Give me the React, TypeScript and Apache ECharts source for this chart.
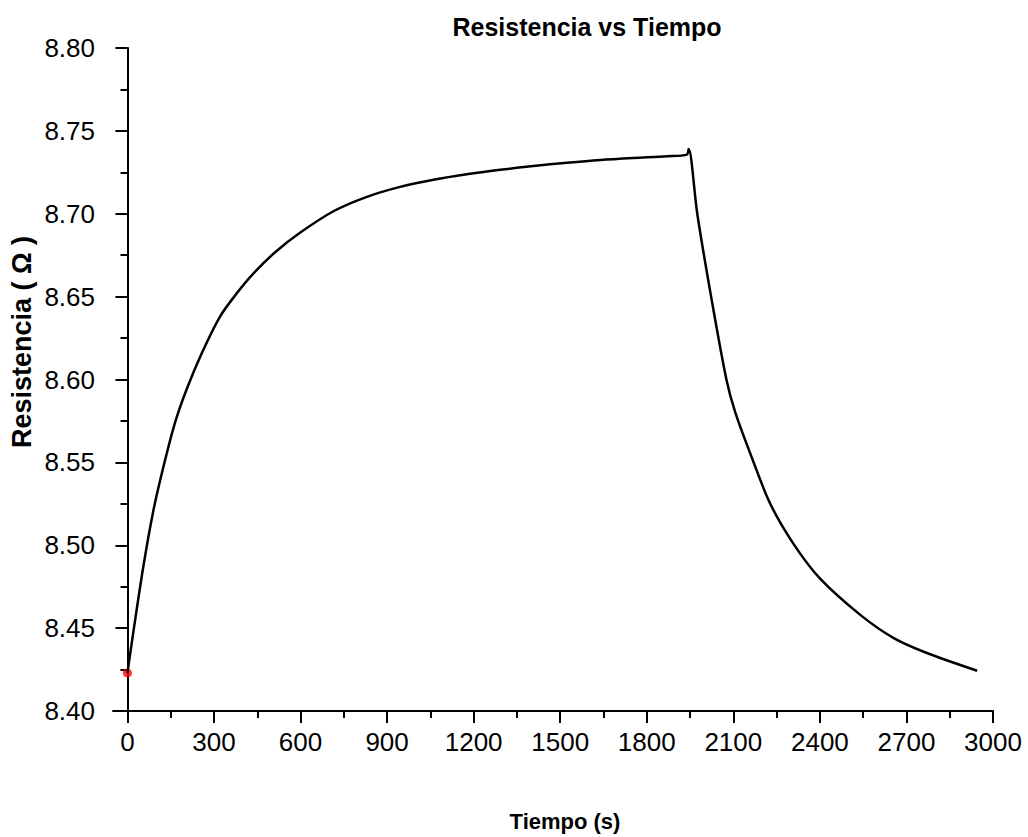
import React, { useEffect, useRef } from "react";
import * as echarts from "echarts";

const timeS = [
  0, 20, 55, 90, 125, 165, 205, 258, 321, 379, 437, 512, 598, 714, 830, 945,
  1061, 1176, 1292, 1407, 1523, 1639, 1754, 1870, 1939, 1945, 1975, 2023,
  2076, 2107, 2166, 2228, 2308, 2400, 2540, 2656, 2771, 2945,
];
const resistance = [
  8.423, 8.447, 8.487, 8.521, 8.5475, 8.574, 8.594, 8.616, 8.638, 8.652,
  8.664, 8.6768, 8.6885, 8.7015, 8.7102, 8.7162, 8.7205, 8.7238, 8.7265, 8.7288,
  8.7308, 8.7325, 8.7337, 8.7347, 8.7357, 8.739, 8.7, 8.65, 8.6, 8.58, 8.552,
  8.525, 8.501, 8.48, 8.458, 8.444, 8.435, 8.4243,
];
const xMajorTicks = [0, 300, 600, 900, 1200, 1500, 1800, 2100, 2400, 2700, 3000];
const xMinorTicks = [150, 450, 750, 1050, 1350, 1650, 1950, 2250, 2550, 2850];
const startPoint = [0, 8.423];

const FONT = "'Liberation Sans', Arial, sans-serif";

export default function App() {
  const ref = useRef<HTMLDivElement>(null);
  useEffect(() => {
    document.body.style.margin = "0";
    const chart = echarts.init(ref.current!, null, { renderer: "svg" });
    const data = timeS.map((t, i) => [t, resistance[i]]);
    const axisLineStyle = { color: "#000", width: 2 };
    chart.setOption({
      animation: false,
      backgroundColor: "#fff",
      title: {
        text: "Resistencia vs Tiempo",
        left: 582,
        top: 9,
        textAlign: "center",
        textStyle: { fontFamily: FONT, fontWeight: "bold", fontSize: 25, color: "#000" },
      },
      grid: { left: 113, right: 35, top: 48, bottom: 126 },
      xAxis: [
        {
          type: "value",
          min: -50,
          max: 3000,
          position: "bottom",
          splitLine: { show: false },
          axisLine: { show: true, lineStyle: axisLineStyle },
          axisTick: {
            show: true,
            inside: false,
            length: 12,
            lineStyle: { color: "#000", width: 2 },
            customValues: xMajorTicks,
          },
          axisLabel: {
            show: true,
            margin: 18,
            fontFamily: FONT,
            fontSize: 26,
            color: "#000",
            customValues: xMajorTicks,
            formatter: (v: number) => String(v),
          },
        },
        {
          type: "value",
          min: -50,
          max: 3000,
          position: "bottom",
          splitLine: { show: false },
          axisLine: { show: false },
          axisTick: {
            show: true,
            inside: false,
            length: 7,
            lineStyle: { color: "#000", width: 2 },
            customValues: xMinorTicks,
          },
          axisLabel: { show: false },
        },
      ],
      yAxis: {
        type: "value",
        min: 8.4,
        max: 8.8,
        interval: 0.05,
        splitLine: { show: false },
        axisLine: { show: true, lineStyle: axisLineStyle },
        axisTick: { show: true, inside: false, length: 12, lineStyle: { color: "#000", width: 2 } },
        minorTick: { show: true, splitNumber: 2, length: 7, lineStyle: { color: "#000", width: 2 } },
        axisLabel: {
          margin: 18,
          fontFamily: FONT,
          fontSize: 26,
          color: "#000",
          formatter: (v: number) => v.toFixed(2),
        },
      },
      graphic: [
        {
          type: "text",
          x: 565,
          y: 821,
          style: {
            text: "Tiempo (s)",
            fontFamily: FONT,
            fontWeight: "bold",
            fontSize: 22,
            fill: "#000",
            align: "center",
            verticalAlign: "middle",
          },
        },
        {
          type: "text",
          x: 22,
          y: 342,
          rotation: Math.PI / 2,
          style: {
            text: "Resistencia ( Ω )",
            fontFamily: FONT,
            fontWeight: "bold",
            fontSize: 27,
            fill: "#000",
            align: "center",
            verticalAlign: "middle",
          },
        },
      ],
      series: [
        {
          type: "line",
          data,
          xAxisIndex: 0,
          showSymbol: false,
          smooth: 0.3,
          lineStyle: { color: "#000", width: 2.5 },
        },
        {
          type: "scatter",
          data: [startPoint],
          xAxisIndex: 0,
          symbolSize: 9,
          itemStyle: { color: "#ff0000" },
        },
      ],
    });
    return () => chart.dispose();
  }, []);
  return <div ref={ref} style={{ width: 1028, height: 837 }} />;
}
